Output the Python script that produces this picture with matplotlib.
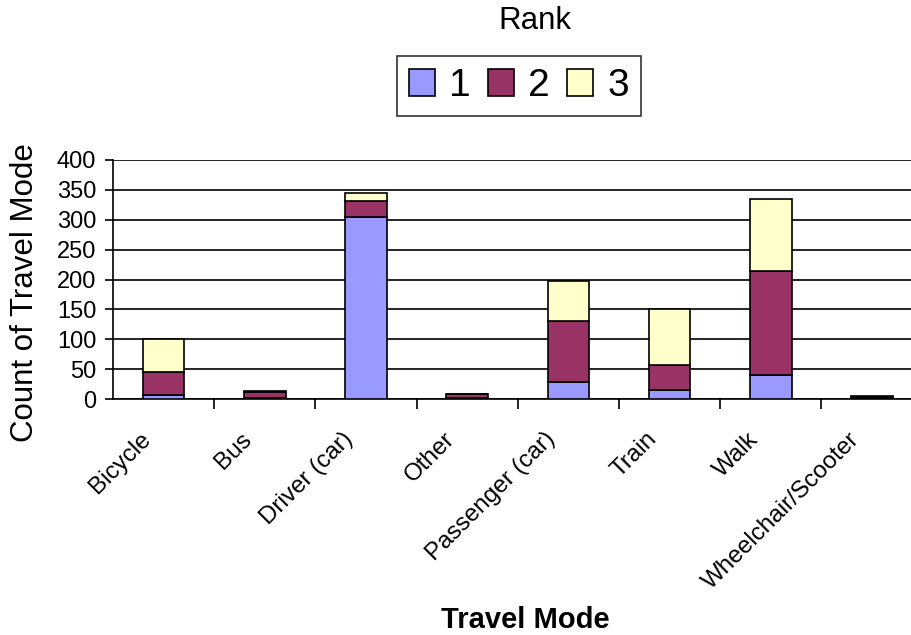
import matplotlib.pyplot as plt
import matplotlib.transforms as mtransforms
import numpy as np

plt.rcParams['font.family'] = ['Liberation Sans', 'DejaVu Sans']

modes = ["Bicycle", "Bus", "Driver (car)", "Other", "Passenger (car)",
         "Train", "Walk", "Wheelchair/Scooter"]
rank1 = np.array([6, 2, 305, 1, 28, 15, 41, 1])
rank2 = np.array([39, 10, 27, 7, 102, 42, 174, 3])
rank3 = np.array([55, 2, 12, 1, 67, 93, 120, 1])
ranks = ["1", "2", "3"]
colors = ["#9999FF", "#993366", "#FFFFCC"]

fig = plt.figure(figsize=(9.12, 6.35), dpi=100)
ax = fig.add_axes([113/912, 236/635, 809.6/912, 239/635])

x = np.arange(len(modes))
w = 0.41
bottom = np.zeros(len(modes))
handles = []
for vals, c, lab in zip([rank1, rank2, rank3], colors, ranks):
    h = ax.bar(x, vals, w, bottom=bottom, color=c, edgecolor='black',
               linewidth=1.2, label=lab, zorder=3)
    handles.append(h)
    bottom = bottom + vals

ax.set_xlim(-0.5, len(modes) - 0.5)
ax.set_ylim(0, 400)
ax.set_yticks(np.arange(0, 401, 50))
ax.yaxis.grid(True, color='black', linewidth=1.2, zorder=0)
ax.tick_params(axis='y', labelsize=17, length=6, width=1.2, direction='out', pad=6)

ax.set_xticks(x)
ax.set_xticklabels(modes, rotation=45, ha='right', rotation_mode='anchor', fontsize=17.5)
ax.set_xticks(np.arange(0.5, len(modes) - 0.5, 1), minor=True)
ax.tick_params(axis='x', which='major', length=0, pad=21)
ax.tick_params(axis='x', which='minor', length=7, width=1.2, direction='out')
shift = mtransforms.ScaledTranslation(-24/100, 0, fig.dpi_scale_trans)
for lbl in ax.get_xticklabels():
    lbl.set_transform(lbl.get_transform() + shift)

for s in ['top', 'right']:
    ax.spines[s].set_visible(False)
for s in ['left', 'bottom']:
    ax.spines[s].set_linewidth(1.2)

ax.set_ylabel("Count of Travel Mode", fontsize=22.5)
ax.yaxis.set_label_coords(-(113 - 40)/809.6, 0.5 - 13/239)
fig.text(525/912, 1 - 620/635, "Travel Mode", fontsize=21, fontweight='bold',
         ha='center', va='center')

fig.text(535/912, 1 - 21/635, "Rank", fontsize=22.5, ha='center', va='center')
leg = fig.legend(handles=handles, labels=ranks, loc='center',
                 bbox_to_anchor=(519/912, 1 - 86/635), ncol=3, fontsize=28,
                 frameon=True, fancybox=False, edgecolor='black',
                 handlelength=0.67, handleheight=0.67, handletextpad=0.36,
                 columnspacing=0.44, borderpad=0.32, borderaxespad=0)
leg.get_frame().set_linewidth(1.2)

plt.savefig("out.png", dpi=100)
